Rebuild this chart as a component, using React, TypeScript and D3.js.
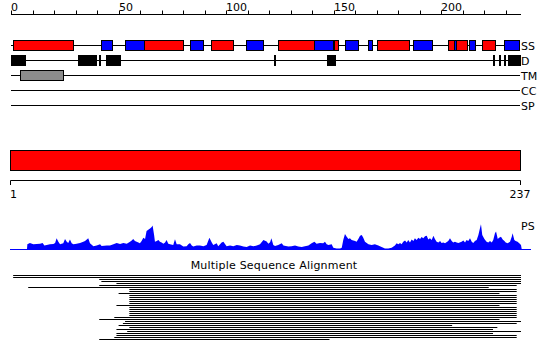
import React from "react";
import * as d3 from "d3";

const W = 550;
const H = 361;
const SEQ_LEN = 237;

// top ruler
const topTickLabels = ["0", "50", "100", "150", "200"];
const topTickValues = [0, 50, 100, 150, 200];
const minorTickValues = [0, 10, 20, 30, 40, 50, 60, 70, 80, 90, 100, 110, 120, 130, 140, 150, 160, 170, 180, 190, 200, 210, 220, 230];

// feature tracks
const trackNames = ["SS", "D", "TM", "CC", "SP"];

// secondary structure (H = helix, E = strand)
const ssType = ["H", "E", "E", "H", "E", "H", "E", "H", "E", "H", "E", "E", "H", "E", "H", "E", "H", "E", "H", "E"];
const ssStart = [2, 43, 54, 63, 84, 94, 110, 125, 142, 151, 156, 167, 171, 188, 204, 207, 208, 214, 220, 230];
const ssEnd = [29, 47, 62, 80, 89, 103, 117, 141, 150, 152, 161, 168, 185, 196, 206, 207, 212, 216, 225, 236];

// disorder
const disStart = [1, 32, 42, 45, 123, 148, 225, 228, 230, 232];
const disEnd = [7, 40, 42, 51, 123, 151, 225, 228, 230, 237];

// transmembrane
const tmStart = [5];
const tmEnd = [24];

// domain bar
const domainStart = [1];
const domainEnd = [237];
const bottomTickLabels = ["1", "237"];
const bottomTickValues = [1, 237];

// PS profile
const psResidue = [7.4, 7.6, 8.8, 10.4, 11.9, 13.5, 14.7, 15.5, 16.6, 18.1, 19.7, 20.5, 21.2, 22.0, 22.8, 24.3, 25.1, 25.9, 26.6, 27.4, 28.2, 29.0, 30.5, 32.1, 33.6, 34.4, 35.9, 36.7, 38.3, 39.8, 41.4, 42.1, 44.5, 46.0, 47.6, 49.1, 50.7, 52.2, 53.8, 55.3, 56.1, 56.8, 57.6, 58.4, 59.2, 59.9, 60.7, 61.5, 62.3, 63.0, 63.8, 64.6, 65.4, 65.8, 66.5, 66.9, 67.7, 68.5, 69.2, 70.0, 70.8, 71.6, 72.3, 73.1, 73.9, 75.4, 76.2, 77.0, 78.5, 80.1, 81.6, 82.4, 83.2, 84.0, 84.7, 86.3, 87.8, 89.4, 90.9, 92.2, 93.3, 94.0, 95.6, 96.3, 97.9, 98.7, 100.2, 101.8, 103.3, 104.9, 106.4, 108.0, 109.5, 111.1, 112.6, 114.2, 115.7, 117.3, 118.8, 119.6, 120.4, 121.0, 121.9, 122.7, 124.2, 125.8, 126.6, 128.9, 130.4, 132.0, 133.5, 135.1, 136.6, 138.2, 139.7, 141.0, 142.0, 143.6, 145.1, 145.9, 146.7, 147.5, 149.0, 149.8, 151.3, 152.9, 153.7, 154.4, 155.2, 156.0, 156.8, 157.5, 158.3, 159.9, 160.6, 161.4, 162.2, 163.0, 163.7, 164.5, 166.1, 167.6, 169.1, 170.7, 172.2, 173.8, 175.3, 176.9, 178.4, 179.2, 180.0, 180.8, 181.5, 182.3, 183.1, 183.9, 184.6, 185.4, 186.2, 187.0, 187.7, 188.5, 189.3, 190.1, 190.8, 191.6, 192.4, 193.2, 193.9, 194.7, 195.5, 196.3, 197.0, 197.8, 198.6, 199.4, 200.1, 200.9, 201.7, 203.2, 204.0, 204.8, 205.5, 206.3, 207.1, 207.9, 209.4, 210.2, 211.0, 211.7, 212.5, 213.3, 214.1, 214.8, 215.6, 216.4, 217.2, 217.9, 218.4, 219.0, 220.0, 221.0, 221.8, 222.6, 223.4, 224.1, 224.9, 225.4, 226.2, 226.8, 227.7, 228.5, 229.3, 229.9, 230.8, 231.9, 232.7, 233.1, 233.9, 234.5, 235.4, 236.2, 237.0, 237.4];
const psScore = [0, 0.22, 0.27, 0.22, 0.23, 0.24, 0.27, 0.17, 0.19, 0.22, 0.23, 0.27, 0.45, 0.32, 0.22, 0.26, 0.42, 0.32, 0.27, 0.40, 0.26, 0.22, 0.24, 0.27, 0.32, 0.35, 0.45, 0.26, 0.14, 0.17, 0.22, 0.15, 0.17, 0.17, 0.22, 0.27, 0.23, 0.27, 0.24, 0.32, 0.37, 0.42, 0.35, 0.32, 0.29, 0.26, 0.35, 0.47, 0.42, 0.73, 0.78, 0.83, 0.88, 0.94, 0.58, 0.32, 0.35, 0.38, 0.32, 0.29, 0.24, 0.29, 0.38, 0.24, 0.22, 0.19, 0.41, 0.22, 0.22, 0.13, 0.14, 0.22, 0.27, 0.17, 0.13, 0.17, 0.17, 0.14, 0.19, 0.47, 0.29, 0.19, 0.26, 0.14, 0.29, 0.32, 0.14, 0.17, 0.14, 0.19, 0.17, 0.13, 0.12, 0.17, 0.14, 0.17, 0.22, 0.38, 0.33, 0.24, 0.30, 0.45, 0.19, 0.15, 0.19, 0.26, 0.17, 0.13, 0.14, 0.17, 0.13, 0.12, 0.14, 0.17, 0.26, 0.32, 0.24, 0.27, 0.26, 0.32, 0.22, 0.19, 0.22, 0.09, 0.06, 0.06, 0.09, 0.38, 0.62, 0.51, 0.42, 0.45, 0.38, 0.35, 0.32, 0.42, 0.55, 0.58, 0.47, 0.32, 0.22, 0.19, 0.22, 0.17, 0.12, 0.06, 0.06, 0.09, 0.17, 0.26, 0.22, 0.27, 0.22, 0.32, 0.37, 0.29, 0.38, 0.29, 0.40, 0.35, 0.45, 0.38, 0.47, 0.42, 0.50, 0.45, 0.53, 0.55, 0.40, 0.45, 0.38, 0.55, 0.42, 0.32, 0.29, 0.35, 0.27, 0.29, 0.26, 0.35, 0.45, 0.35, 0.29, 0.32, 0.29, 0.27, 0.32, 0.37, 0.29, 0.38, 0.35, 0.45, 0.32, 0.27, 0.35, 0.38, 0.58, 0.83, 0.99, 0.58, 0.42, 0.32, 0.29, 0.35, 0.29, 0.38, 0.64, 0.71, 0.42, 0.47, 0.51, 0.40, 0.35, 0.29, 0.26, 0.32, 0.51, 0.64, 0.38, 0.35, 0.32, 0.26, 0.19, 0];

// multiple sequence alignment hits
const msaTitle = "Multiple Sequence Alignment";
const msaStart = [2, 2, 42, 43, 50, 42, 9, 56, 56, 51, 56, 56, 56, 56, 56, 50, 56, 56, 56, 56, 56, 49, 42, 54, 53, 51, 56, 50, 55, 50, 50, 49, 42];
const msaEnd = [237, 237, 237, 237, 237, 235, 222, 235, 235, 227, 235, 235, 235, 235, 235, 227, 235, 235, 235, 235, 235, 235, 227, 237, 235, 205, 226, 224, 237, 224, 235, 235, 148];

const FONT = "DejaVu Sans";
const RED = "#ff0000";
const BLUE = "#0000ff";
const GREY = "#8c8c8c";

export default function App() {
  const x = d3.scaleLinear().domain([0, SEQ_LEN]).range([11, 521]);
  const xb = d3.scaleLinear().domain([1, SEQ_LEN]).range([10, 520]);
  const trackY = d3.scaleLinear().domain([0, trackNames.length - 1]).range([45, 105]);
  const ps = d3.scaleLinear().domain([0, 1]).range([250, 224]);
  const msaY = d3.scaleLinear().domain([0, msaStart.length - 1]).range([275, 339]);

  const psData = psResidue.map((r, i) => ({ r, v: psScore[i] }));
  const psArea = d3
    .area<{ r: number; v: number }>()
    .x((d) => x(d.r))
    .y0(ps(0))
    .y1((d) => ps(d.v));

  const crisp = (v: number) => Math.round(v) + 0.5;
  const boxH = 10;

  return (
    <svg
      width={W}
      height={H}
      viewBox={`0 0 ${W} ${H}`}
      style={{ position: "absolute", left: 0, top: 0, background: "#fff" }}
      fontFamily={FONT}
      fontSize={11}
    >
      <rect x={0} y={0} width={W} height={H} fill="#fff" />

      {/* top ruler */}
      <g>
        <line x1={x(0)} x2={x(SEQ_LEN)} y1={14.5} y2={14.5} stroke="#000" />
        {minorTickValues.map((t) => (
          <line key={t} x1={crisp(x(t))} x2={crisp(x(t))} y1={10.5} y2={14.5} stroke="#000" />
        ))}
        {topTickValues.map((t, i) => (
          <text key={t} x={Math.round(x(t))} y={11} fill="#000">
            {topTickLabels[i]}
          </text>
        ))}
      </g>

      {/* track lines and labels */}
      {trackNames.map((name, i) => (
        <g key={name}>
          <line x1={x(0)} x2={x(SEQ_LEN) - 1} y1={crisp(trackY(i))} y2={crisp(trackY(i))} stroke="#000" />
          <text x={x(SEQ_LEN)} y={trackY(i) + 4.5} fill="#000">
            {name}
          </text>
        </g>
      ))}

      {/* SS */}
      {ssType.map((t, i) => (
        <rect
          key={"ss" + i}
          x={crisp(x(ssStart[i] - 1))}
          y={crisp(trackY(0) - boxH / 2)}
          width={Math.max(1, Math.round(x(ssEnd[i]) - x(ssStart[i] - 1)))}
          height={boxH}
          fill={t === "H" ? RED : BLUE}
          stroke="#000"
        />
      ))}

      {/* disorder */}
      {disStart.map((s, i) => (
        <rect
          key={"d" + i}
          x={Math.round(x(s - 1))}
          y={Math.round(trackY(1) - boxH / 2)}
          width={Math.max(2, Math.round(x(disEnd[i]) - x(s - 1)))}
          height={boxH + 1}
          fill="#000"
        />
      ))}

      {/* TM */}
      {tmStart.map((s, i) => (
        <rect
          key={"tm" + i}
          x={crisp(x(s - 1))}
          y={crisp(trackY(2) - boxH / 2)}
          width={Math.round(x(tmEnd[i]) - x(s - 1))}
          height={boxH}
          fill={GREY}
          stroke="#000"
        />
      ))}

      {/* domain bar */}
      {domainStart.map((s, i) => (
        <rect
          key={"dom" + i}
          x={crisp(xb(s))}
          y={150.5}
          width={Math.round(xb(domainEnd[i]) - xb(s))}
          height={20}
          fill={RED}
          stroke="#000"
        />
      ))}
      <g>
        <line x1={crisp(xb(1))} x2={crisp(xb(SEQ_LEN))} y1={180.5} y2={180.5} stroke="#000" />
        {bottomTickValues.map((t, i) => (
          <g key={t}>
            <line x1={crisp(xb(t))} x2={crisp(xb(t))} y1={180.5} y2={185} stroke="#000" />
            <text
              x={xb(t)}
              y={198}
              textAnchor={i === 0 ? "start" : "middle"}
              fill="#000"
            >
              {bottomTickLabels[i]}
            </text>
          </g>
        ))}
      </g>

      {/* PS profile */}
      <path d={psArea(psData) || ""} fill={BLUE} stroke="none" />
      <line x1={x(0) - 1} x2={x(SEQ_LEN) + 10} y1={ps(0) - 0.5} y2={ps(0) - 0.5} stroke={BLUE} />
      <text x={x(SEQ_LEN)} y={230} fill="#000">
        PS
      </text>

      {/* MSA */}
      <text x={274} y={269} textAnchor="middle" fill="#000" letterSpacing={0.2}>
        {msaTitle}
      </text>
      {msaStart.map((s, i) => (
        <line
          key={"msa" + i}
          x1={x(s - 1)}
          x2={x(msaEnd[i])}
          y1={crisp(msaY(i))}
          y2={crisp(msaY(i))}
          stroke="#000"
          strokeWidth={1}
        />
      ))}
    </svg>
  );
}
